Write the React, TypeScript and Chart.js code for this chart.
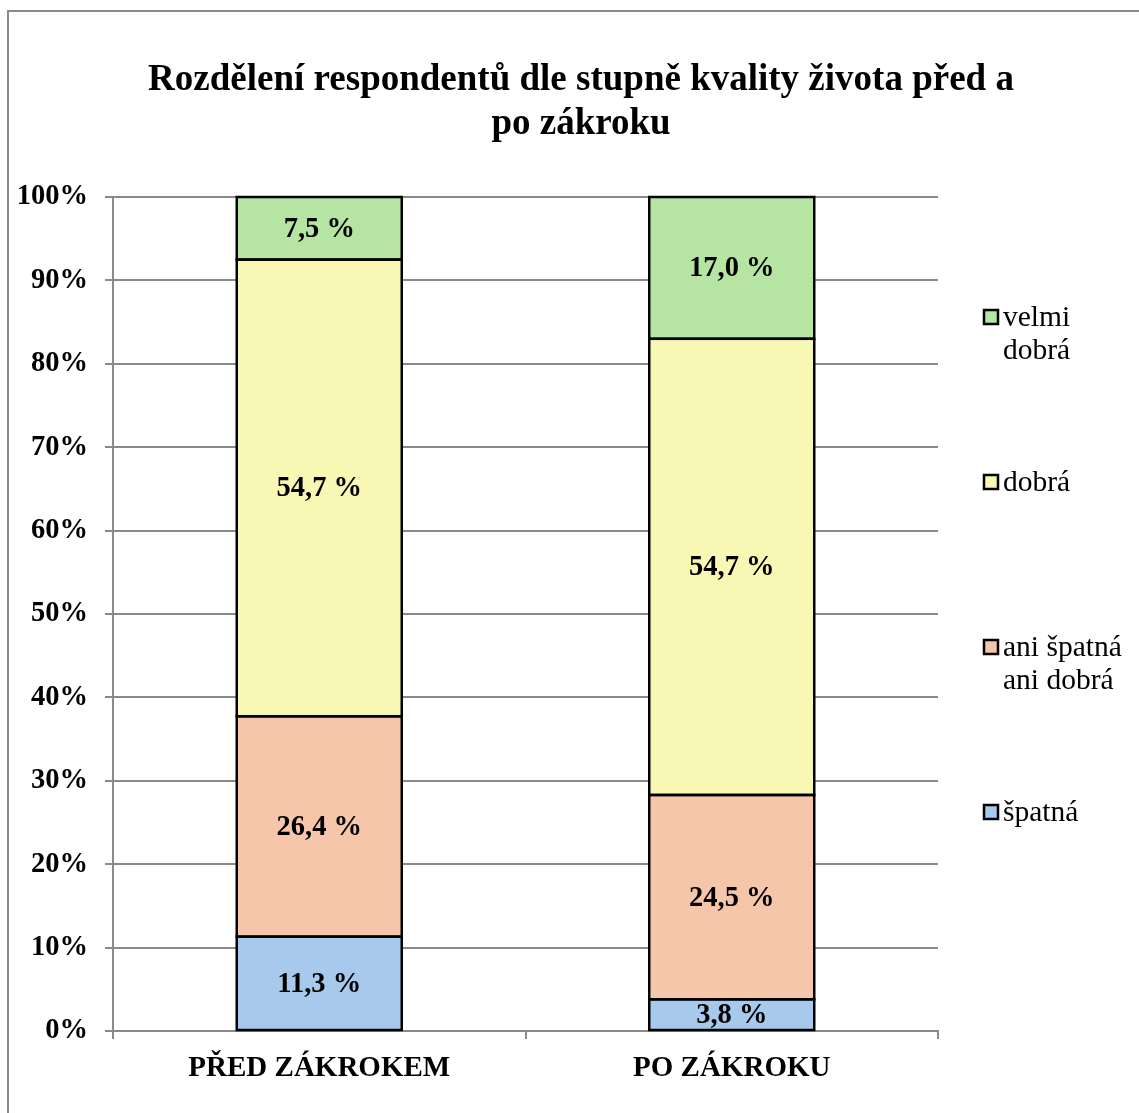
import React, { useEffect, useRef } from 'react';
import { Chart, registerables } from 'chart.js';

Chart.register(...registerables);

const titleLines = ['Rozdělení respondentů dle stupně kvality života před a', 'po zákroku'];
const categories = ['PŘED ZÁKROKEM', 'PO ZÁKROKU'];
const seriesLabels = ['špatná', 'ani špatná ani dobrá', 'dobrá', 'velmi dobrá'];
const legendLines = [['špatná'], ['ani špatná', 'ani dobrá'], ['dobrá'], ['velmi', 'dobrá']];
const spatna = [11.3, 3.8];
const aniSpatnaAniDobra = [26.4, 24.5];
const dobra = [54.7, 54.7];
const velmiDobra = [7.5, 17.0];
const seriesColors = ['#A7C9EB', '#F6C6AA', '#F8F8B4', '#B5E4A3'];

const rawSeries = [spatna, aniSpatnaAniDobra, dobra, velmiDobra];
const totals = categories.map((_, i) => rawSeries.reduce((s, arr) => s + arr[i], 0));

const SERIF = '"Liberation Serif", "Times New Roman", serif';
const GRID = '#8a8a8a';

const fmt = (v: number) => v.toFixed(1).replace('.', ',') + ' %';

const decoPlugin = {
  id: 'deco',
  beforeDraw(chart: any) {
    const ctx = chart.ctx;
    ctx.save();
    ctx.fillStyle = '#ffffff';
    ctx.fillRect(0, 0, chart.width, chart.height);
    ctx.strokeStyle = '#8a8a8a';
    ctx.lineWidth = 2;
    ctx.strokeRect(8, 11, chart.width + 50, chart.height + 50);
    ctx.restore();
  },
  afterDatasetsDraw(chart: any) {
    const ctx = chart.ctx;
    ctx.save();
    // outlines of segments
    ctx.strokeStyle = '#000';
    ctx.lineWidth = 2.5;
    chart.data.datasets.forEach((ds: any, di: number) => {
      const meta = chart.getDatasetMeta(di);
      meta.data.forEach((el: any) => {
        const left = el.x - el.width / 2;
        const top = Math.min(el.y, el.base);
        const h = Math.abs(el.base - el.y);
        ctx.strokeRect(left, top, el.width, h);
      });
    });
    ctx.font = `bold 28.5px ${SERIF}`;
    ctx.fillStyle = '#000';
    ctx.textAlign = 'center';
    ctx.textBaseline = 'middle';
    chart.data.datasets.forEach((ds: any, di: number) => {
      const meta = chart.getDatasetMeta(di);
      meta.data.forEach((el: any, i: number) => {
        const cy = (el.y + el.base) / 2;
        ctx.fillText(fmt(rawSeries[di][i]), el.x, cy + 1);
      });
    });
    ctx.restore();
  },
  afterDraw(chart: any) {
    const ctx = chart.ctx;
    const ca = chart.chartArea;
    ctx.save();
    ctx.fillStyle = '#000';
    ctx.textAlign = 'center';
    ctx.textBaseline = 'middle';
    ctx.font = `bold 37px ${SERIF}`;
    titleLines.forEach((t, i) => ctx.fillText(t, 581, 80 + i * 44));

    // legend
    ctx.font = `29.5px ${SERIF}`;
    ctx.textAlign = 'left';
    const n = seriesLabels.length;
    for (let k = 0; k < n; k++) {
      const si = n - 1 - k;
      const y0 = ca.top + 120 + k * 165;
      ctx.fillStyle = seriesColors[si];
      ctx.fillRect(984, y0 - 7, 14, 14);
      ctx.strokeStyle = '#000';
      ctx.lineWidth = 2.5;
      ctx.strokeRect(984, y0 - 7, 14, 14);
      ctx.fillStyle = '#000';
      legendLines[si].forEach((line, li) => ctx.fillText(line, 1003, y0 + 1 + li * 33));
    }
    ctx.restore();
  },
};

export default function App() {
  const ref = useRef<HTMLCanvasElement | null>(null);
  useEffect(() => {
    if (!ref.current) return;
    const chart = new Chart(ref.current, {
      type: 'bar',
      data: {
        labels: categories,
        datasets: rawSeries.map((arr, di) => ({
          label: seriesLabels[di],
          data: arr.map((v, i) => (v / totals[i]) * 100),
          backgroundColor: seriesColors[di],
          borderWidth: 0,
          categoryPercentage: 0.4,
          barPercentage: 1.0,
        })),
      },
      options: {
        responsive: false,
        animation: false,
        layout: { padding: { top: 197, right: 201, left: 0, bottom: 0 } },
        plugins: {
          legend: { display: false },
          title: { display: false },
          tooltip: { enabled: false },
        },
        scales: {
          x: {
            stacked: true,
            grid: { drawOnChartArea: false, drawTicks: true, tickLength: 8, color: GRID, lineWidth: 2 },
            border: { display: true, color: GRID, width: 2 },
            ticks: { color: '#000', font: { family: SERIF, size: 29, weight: 'bold' }, padding: 12 },
            afterFit: (axis: any) => { axis.height = 82; },
          },
          y: {
            stacked: true,
            min: 0,
            max: 100,
            grid: { color: GRID, lineWidth: 2, tickLength: 8 },
            border: { display: true, color: GRID, width: 2 },
            ticks: {
              stepSize: 10,
              color: '#000',
              font: { family: SERIF, size: 28.5, weight: 'bold' },
              padding: 17,
              callback: (v: any) => v + '%',
            },
            afterFit: (axis: any) => { axis.width = 113; },
          },
        },
      },
      plugins: [decoPlugin],
    } as any);
    return () => chart.destroy();
  }, []);
  return (
    <canvas
      ref={ref}
      width={1139}
      height={1113}
      style={{ position: 'fixed', left: 0, top: 0, width: 1139, height: 1113 }}
    />
  );
}
